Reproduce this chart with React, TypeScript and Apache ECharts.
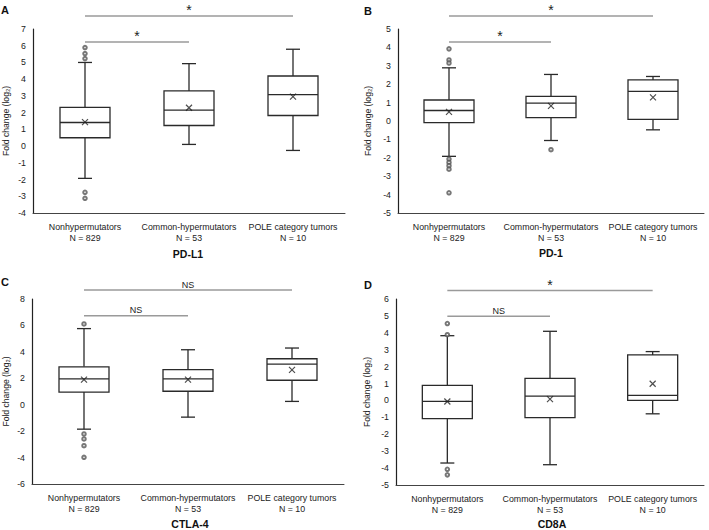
import React, { useEffect, useRef } from "react";
import * as echarts from "echarts";

// ---------- data ----------
const categories = ["Nonhypermutators", "Common-hypermutators", "POLE category tumors"];
const sampleSizes = [829, 53, 10];
const panelLetters = ["A", "B", "C", "D"];
const genes = ["PD-L1", "PD-1", "CTLA-4", "CD8A"];
const yAxisName = "Fold change (log₂)";

// box stats: [min, q1, median, q3, max]
const pdl1Boxes = [
  [-1.93, 0.5, 1.41, 2.31, 5.0],
  [0.1, 1.23, 2.15, 3.3, 4.93],
  [-0.26, 1.83, 3.08, 4.19, 5.79],
];
const pdl1Means = [1.43, 2.29, 2.96];
const pdl1Outliers = [[0, 5.23], [0, 5.53], [0, 5.89], [0, -2.76], [0, -3.12]];
const pdl1Sig = [[0, 1, 6.22], [0, 2, 7.77]];
const pdl1SigLabels = ["*", "*"];
const pdl1Ticks = [-4, 7, 1];

const pd1Boxes = [
  [-1.92, -0.09, 0.57, 1.14, 2.89],
  [-1.06, 0.18, 0.97, 1.34, 2.53],
  [-0.48, 0.09, 1.61, 2.23, 2.42],
];
const pd1Means = [0.5, 0.82, 1.28];
const pd1Outliers = [
  [0, 3.92], [0, 3.32], [0, 3.15], [0, -2.07], [0, -2.25], [0, -2.43], [0, -2.62], [0, -3.9], [1, -1.56],
];
const pd1Sig = [[0, 1, 4.29], [0, 2, 5.71]];
const pd1SigLabels = ["*", "*"];
const pd1Ticks = [-5, 5, 1];

const ctla4Boxes = [
  [-1.85, 0.96, 1.95, 2.87, 5.76],
  [-0.94, 1.02, 1.95, 2.66, 4.16],
  [0.25, 1.85, 3.07, 3.48, 4.29],
];
const ctla4Means = [1.9, 1.9, 2.64];
const ctla4Outliers = [[0, 6.11], [0, -2.21], [0, -2.59], [0, -3.1], [0, -3.98]];
const ctla4Sig = [[0, 1, 6.73], [0, 2, 8.68]];
const ctla4SigLabels = ["NS", "NS"];
const ctla4Ticks = [-6, 8, 2];

const cd8aBoxes = [
  [-3.7, -1.07, -0.06, 0.89, 3.83],
  [-3.8, -1.01, 0.26, 1.3, 4.09],
  [-0.79, 0.0, 0.3, 2.69, 2.89],
];
const cd8aMeans = [-0.06, 0.08, 0.99];
const cd8aOutliers = [[0, 4.55], [0, 3.89], [0, -4.07], [0, -4.4]];
const cd8aSig = [[0, 1, 4.98], [0, 2, 6.5]];
const cd8aSigLabels = ["NS", "*"];
const cd8aTicks = [-5, 6, 1];

// ---------- layout ----------
const FONT = "'Liberation Sans', Arial, Helvetica, sans-serif";
const TEXT = "#222";
const STROKE = "#2a2a2a";
const GRAY = "#9a9a9a";

const grids = [
  { left: 33, top: 29, width: 312, height: 184 },
  { left: 398, top: 29, width: 306, height: 184 },
  { left: 32, top: 299, width: 312, height: 185 },
  { left: 396, top: 299, width: 308, height: 186 },
];
const nameGaps = [23, 26, 22, 25];
const letterPos = [[1, 4], [364, 5], [1, 276], [364, 279]];
const genePos = [[188, 254], [551, 253], [190, 524], [552, 524]];

const panels = [
  { boxes: pdl1Boxes, means: pdl1Means, outliers: pdl1Outliers, sig: pdl1Sig, sigLabels: pdl1SigLabels, ticks: pdl1Ticks },
  { boxes: pd1Boxes, means: pd1Means, outliers: pd1Outliers, sig: pd1Sig, sigLabels: pd1SigLabels, ticks: pd1Ticks },
  { boxes: ctla4Boxes, means: ctla4Means, outliers: ctla4Outliers, sig: ctla4Sig, sigLabels: ctla4SigLabels, ticks: ctla4Ticks },
  { boxes: cd8aBoxes, means: cd8aMeans, outliers: cd8aOutliers, sig: cd8aSig, sigLabels: cd8aSigLabels, ticks: cd8aTicks },
];

function buildOption() {
  const categoryLabels = categories.map((c, i) => `${c}\nN = ${sampleSizes[i]}`);
  const grid: any[] = [];
  const xAxis: any[] = [];
  const yAxis: any[] = [];
  const series: any[] = [];
  const graphic: any[] = [];

  panels.forEach((p, i) => {
    grid.push({ ...grids[i], containLabel: false, outerBoundsMode: "none" });
    xAxis.push({
      type: "category",
      gridIndex: i,
      data: categoryLabels,
      axisTick: { show: false },
      axisLine: { onZero: false, lineStyle: { color: "#444", width: 1 } },
      axisLabel: { fontSize: 8.8, color: TEXT, fontFamily: FONT, lineHeight: 11, margin: 8, interval: 0 },
    });
    yAxis.push({
      type: "value",
      gridIndex: i,
      min: p.ticks[0],
      max: p.ticks[1],
      interval: p.ticks[2],
      axisLine: { show: true, onZero: false, lineStyle: { color: "#222", width: 1.2 } },
      axisTick: { show: false },
      splitLine: { show: false },
      axisLabel: { fontSize: 8.8, color: TEXT, fontFamily: FONT, margin: 7 },
      name: yAxisName,
      nameLocation: "middle",
      nameGap: nameGaps[i],
      nameTextStyle: { fontSize: 8.6, color: TEXT, fontFamily: FONT },
    });

    // box + whiskers
    series.push({
      type: "custom",
      xAxisIndex: i,
      yAxisIndex: i,
      clip: false,
      encode: { x: 0, y: [1, 2, 3, 4, 5] },
      data: p.boxes.map((b, k) => [k, ...b]),
      renderItem: (params: any, api: any) => {
        const k = api.value(0);
        const pMin = api.coord([k, api.value(1)]);
        const pQ1 = api.coord([k, api.value(2)]);
        const pMed = api.coord([k, api.value(3)]);
        const pQ3 = api.coord([k, api.value(4)]);
        const pMax = api.coord([k, api.value(5)]);
        const cx = pMin[0];
        const hw = 25;
        const cap = 7;
        const st = { stroke: STROKE, lineWidth: 1.3, fill: "none" };
        return {
          type: "group",
          children: [
            { type: "line", shape: { x1: cx, y1: pMax[1], x2: cx, y2: pQ3[1] }, style: st },
            { type: "line", shape: { x1: cx, y1: pQ1[1], x2: cx, y2: pMin[1] }, style: st },
            { type: "line", shape: { x1: cx - cap, y1: pMax[1], x2: cx + cap, y2: pMax[1] }, style: st },
            { type: "line", shape: { x1: cx - cap, y1: pMin[1], x2: cx + cap, y2: pMin[1] }, style: st },
            {
              type: "rect",
              shape: { x: cx - hw, y: pQ3[1], width: hw * 2, height: pQ1[1] - pQ3[1] },
              style: { stroke: STROKE, lineWidth: 1.3, fill: "#fff" },
            },
            { type: "line", shape: { x1: cx - hw, y1: pMed[1], x2: cx + hw, y2: pMed[1] }, style: st },
          ],
        };
      },
      z: 2,
    });

    // outliers
    series.push({
      type: "scatter",
      xAxisIndex: i,
      yAxisIndex: i,
      data: p.outliers,
      symbol: "emptyCircle",
      symbolSize: 3.5,
      itemStyle: { color: "#555", borderWidth: 0.9 },
      z: 3,
    });

    // means
    series.push({
      type: "scatter",
      xAxisIndex: i,
      yAxisIndex: i,
      data: p.means.map((m, k) => [k, m]),
      symbol: "path://M0,0L10,10M10,0L0,10",
      symbolSize: 6,
      itemStyle: { color: "none", borderColor: "#222", borderWidth: 1.2 },
      z: 4,
    });

    // significance brackets
    const labels = p.sigLabels;
    series.push({
      type: "custom",
      xAxisIndex: i,
      yAxisIndex: i,
      clip: false,
      encode: { x: [0, 1], y: 2 },
      data: p.sig,
      renderItem: (params: any, api: any) => {
        const a = api.coord([api.value(0), api.value(2)]);
        const b = api.coord([api.value(1), api.value(2)]);
        const lab = labels[params.dataIndex];
        const isStar = lab === "*";
        return {
          type: "group",
          children: [
            { type: "line", shape: { x1: a[0], y1: a[1], x2: b[0], y2: b[1] }, style: { stroke: GRAY, lineWidth: 1.5 } },
            {
              type: "text",
              x: (a[0] + b[0]) / 2,
              y: isStar ? a[1] + 1 : a[1] - 1,
              style: {
                text: lab,
                fill: TEXT,
                fontFamily: FONT,
                fontSize: isStar ? 14 : 9,
                align: "center",
                verticalAlign: "bottom",
              },
            },
          ],
        };
      },
      z: 5,
    });

    graphic.push({
      type: "text",
      x: letterPos[i][0],
      y: letterPos[i][1],
      style: { text: panelLetters[i], fill: "#111", fontFamily: FONT, fontSize: 11, fontWeight: "bold" },
    });
    graphic.push({
      type: "text",
      x: genePos[i][0],
      y: genePos[i][1],
      style: {
        text: genes[i],
        fill: "#111",
        fontFamily: FONT,
        fontSize: 10.5,
        fontWeight: "bold",
        align: "center",
        verticalAlign: "middle",
      },
    });
  });

  return {
    animation: false,
    backgroundColor: "#fff",
    textStyle: { fontFamily: FONT },
    grid,
    xAxis,
    yAxis,
    series,
    graphic,
  };
}

export default function App() {
  const ref = useRef<HTMLDivElement>(null);
  useEffect(() => {
    document.body.style.margin = "0";
    const chart = echarts.init(ref.current!, null, { renderer: "svg" });
    chart.setOption(buildOption() as any);
    return () => chart.dispose();
  }, []);
  return <div ref={ref} style={{ width: 709, height: 530 }} />;
}
